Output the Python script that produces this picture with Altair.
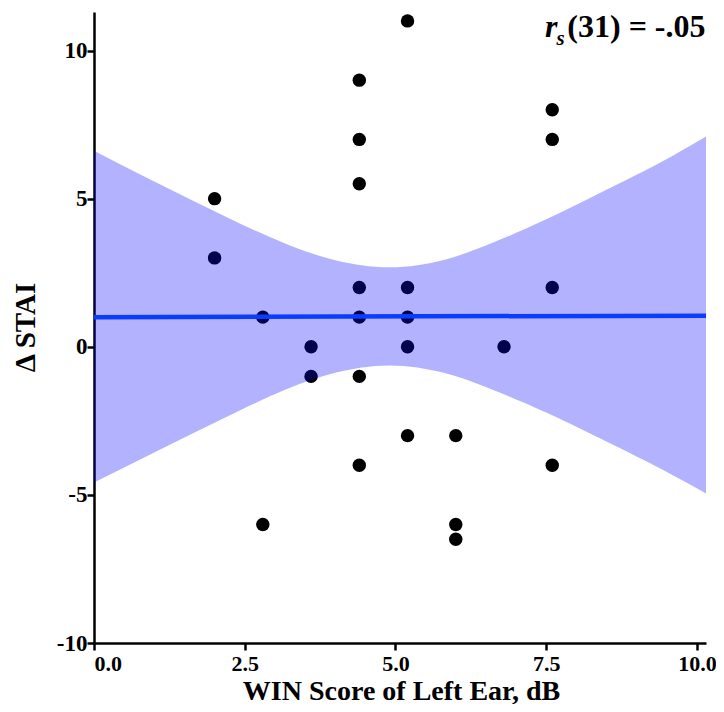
import altair as alt
import pandas as pd

# Scatter points (WIN score left ear, change in STAI)
pt_x = [2.0, 2.0, 2.8, 2.8, 3.6, 3.6,
        4.4, 4.4, 4.4, 4.4, 4.4, 4.4, 4.4,
        5.2, 5.2, 5.2, 5.2, 5.2,
        6.0, 6.0, 6.0, 6.8,
        7.6, 7.6, 7.6, 7.6]
pt_y = [5, 3, 1, -6, 0, -1,
        9, 7, 5.5, 2, 1, -1, -4,
        11, 2, 1, 0, -3,
        -3, -6, -6.5, 0,
        8, 7, 2, -4]

# Regression line endpoints
fit_x = [0.0, 10.15]
fit_y = [1.00, 1.05]

# Confidence band
band_x = [0.0, 0.8, 1.6, 2.4, 3.2, 4.0, 4.9, 5.8, 6.6, 7.5, 8.6, 9.4, 10.15]
band_hi = [6.62, 5.78, 4.97, 4.18, 3.46, 2.92, 2.68, 2.93, 3.50, 4.30, 5.40, 6.23, 7.10]
band_lo = [-4.58, -3.77, -2.96, -2.17, -1.43, -0.88, -0.63, -0.88, -1.44, -2.22, -3.30, -4.12, -4.95]

# Annotation pieces
ann_text = ["r", "s", "(31) = -.05"]
ann_x = [7.48, 7.67, 7.85]
ann_y = [10.44, 10.20, 10.44]

FONT = "Liberation Serif"
xs = alt.Scale(domain=[0, 10.15], nice=False, zero=False)
ys = alt.Scale(domain=[-10, 11.3], nice=False, zero=False)

W, H = 612, 631

pts = pd.DataFrame({"x": pt_x, "y": pt_y})
fit = pd.DataFrame({"x": fit_x, "y": fit_y})
band = pd.DataFrame({"x": band_x, "hi": band_hi, "lo": band_lo})
ann = pd.DataFrame({"t": ann_text, "x": ann_x, "y": ann_y})

points = alt.Chart(pts).mark_circle(size=180, color="black", opacity=1).encode(
    x=alt.X("x:Q", scale=xs,
            axis=alt.Axis(title="WIN Score of Left Ear, dB", values=[0, 2.5, 5, 7.5, 10],
                          format=".1f", titleBaseline="alphabetic", titleY=56, titleX=307,
                          titleAnchor="middle", labelPadding=3, labelFontSize=22,
                          titleFontSize=28)),
    y=alt.Y("y:Q", scale=ys,
            axis=alt.Axis(title="Δ STAI", values=[-10, -5, 0, 5, 10], labelExpr="datum.value",
                          titleBaseline="alphabetic", titleX=-60, titleY=315, titleAngle=270,
                          titleAnchor="middle", labelPadding=0, labelFontSize=23,
                          titleFontSize=29)),
)

area = alt.Chart(band).mark_area(color="#0000ff", opacity=0.3, interpolate="natural").encode(
    x=alt.X("x:Q", scale=xs), y=alt.Y("lo:Q", scale=ys), y2="hi:Q"
)

line = alt.Chart(fit).mark_line(color="#0a3cff", strokeWidth=4.5).encode(
    x=alt.X("x:Q", scale=xs), y=alt.Y("y:Q", scale=ys)
)

r_txt = alt.Chart(ann.iloc[[0]]).mark_text(
    font=FONT, fontSize=32, fontWeight="bold", fontStyle="italic", align="left",
    baseline="alphabetic", color="black").encode(
    x=alt.X("x:Q", scale=xs), y=alt.Y("y:Q", scale=ys), text="t:N")
s_txt = alt.Chart(ann.iloc[[1]]).mark_text(
    font=FONT, fontSize=21, fontWeight="bold", fontStyle="italic", align="left",
    baseline="alphabetic", color="black").encode(
    x=alt.X("x:Q", scale=xs), y=alt.Y("y:Q", scale=ys), text="t:N")
m_txt = alt.Chart(ann.iloc[[2]]).mark_text(
    font=FONT, fontSize=32, fontWeight="bold", align="left",
    baseline="alphabetic", color="black").encode(
    x=alt.X("x:Q", scale=xs), y=alt.Y("y:Q", scale=ys), text="t:N")

chart = alt.layer(points, area, line, r_txt, s_txt, m_txt).properties(
    width=W, height=H,
    autosize=alt.AutoSizeParams(type="none"),
    padding={"left": 86, "top": 4, "right": 10, "bottom": 61},
).configure_view(stroke=None).configure_axis(
    grid=False, domainColor="black", domainWidth=2.5, tickColor="black", tickWidth=2.5,
    tickSize=7, labelFont=FONT, labelFontWeight="bold", labelColor="black",
    titleFont=FONT, titleFontWeight="bold", titleColor="black",
)

chart.save("out.html", embed_options={"renderer": "svg", "actions": False})
